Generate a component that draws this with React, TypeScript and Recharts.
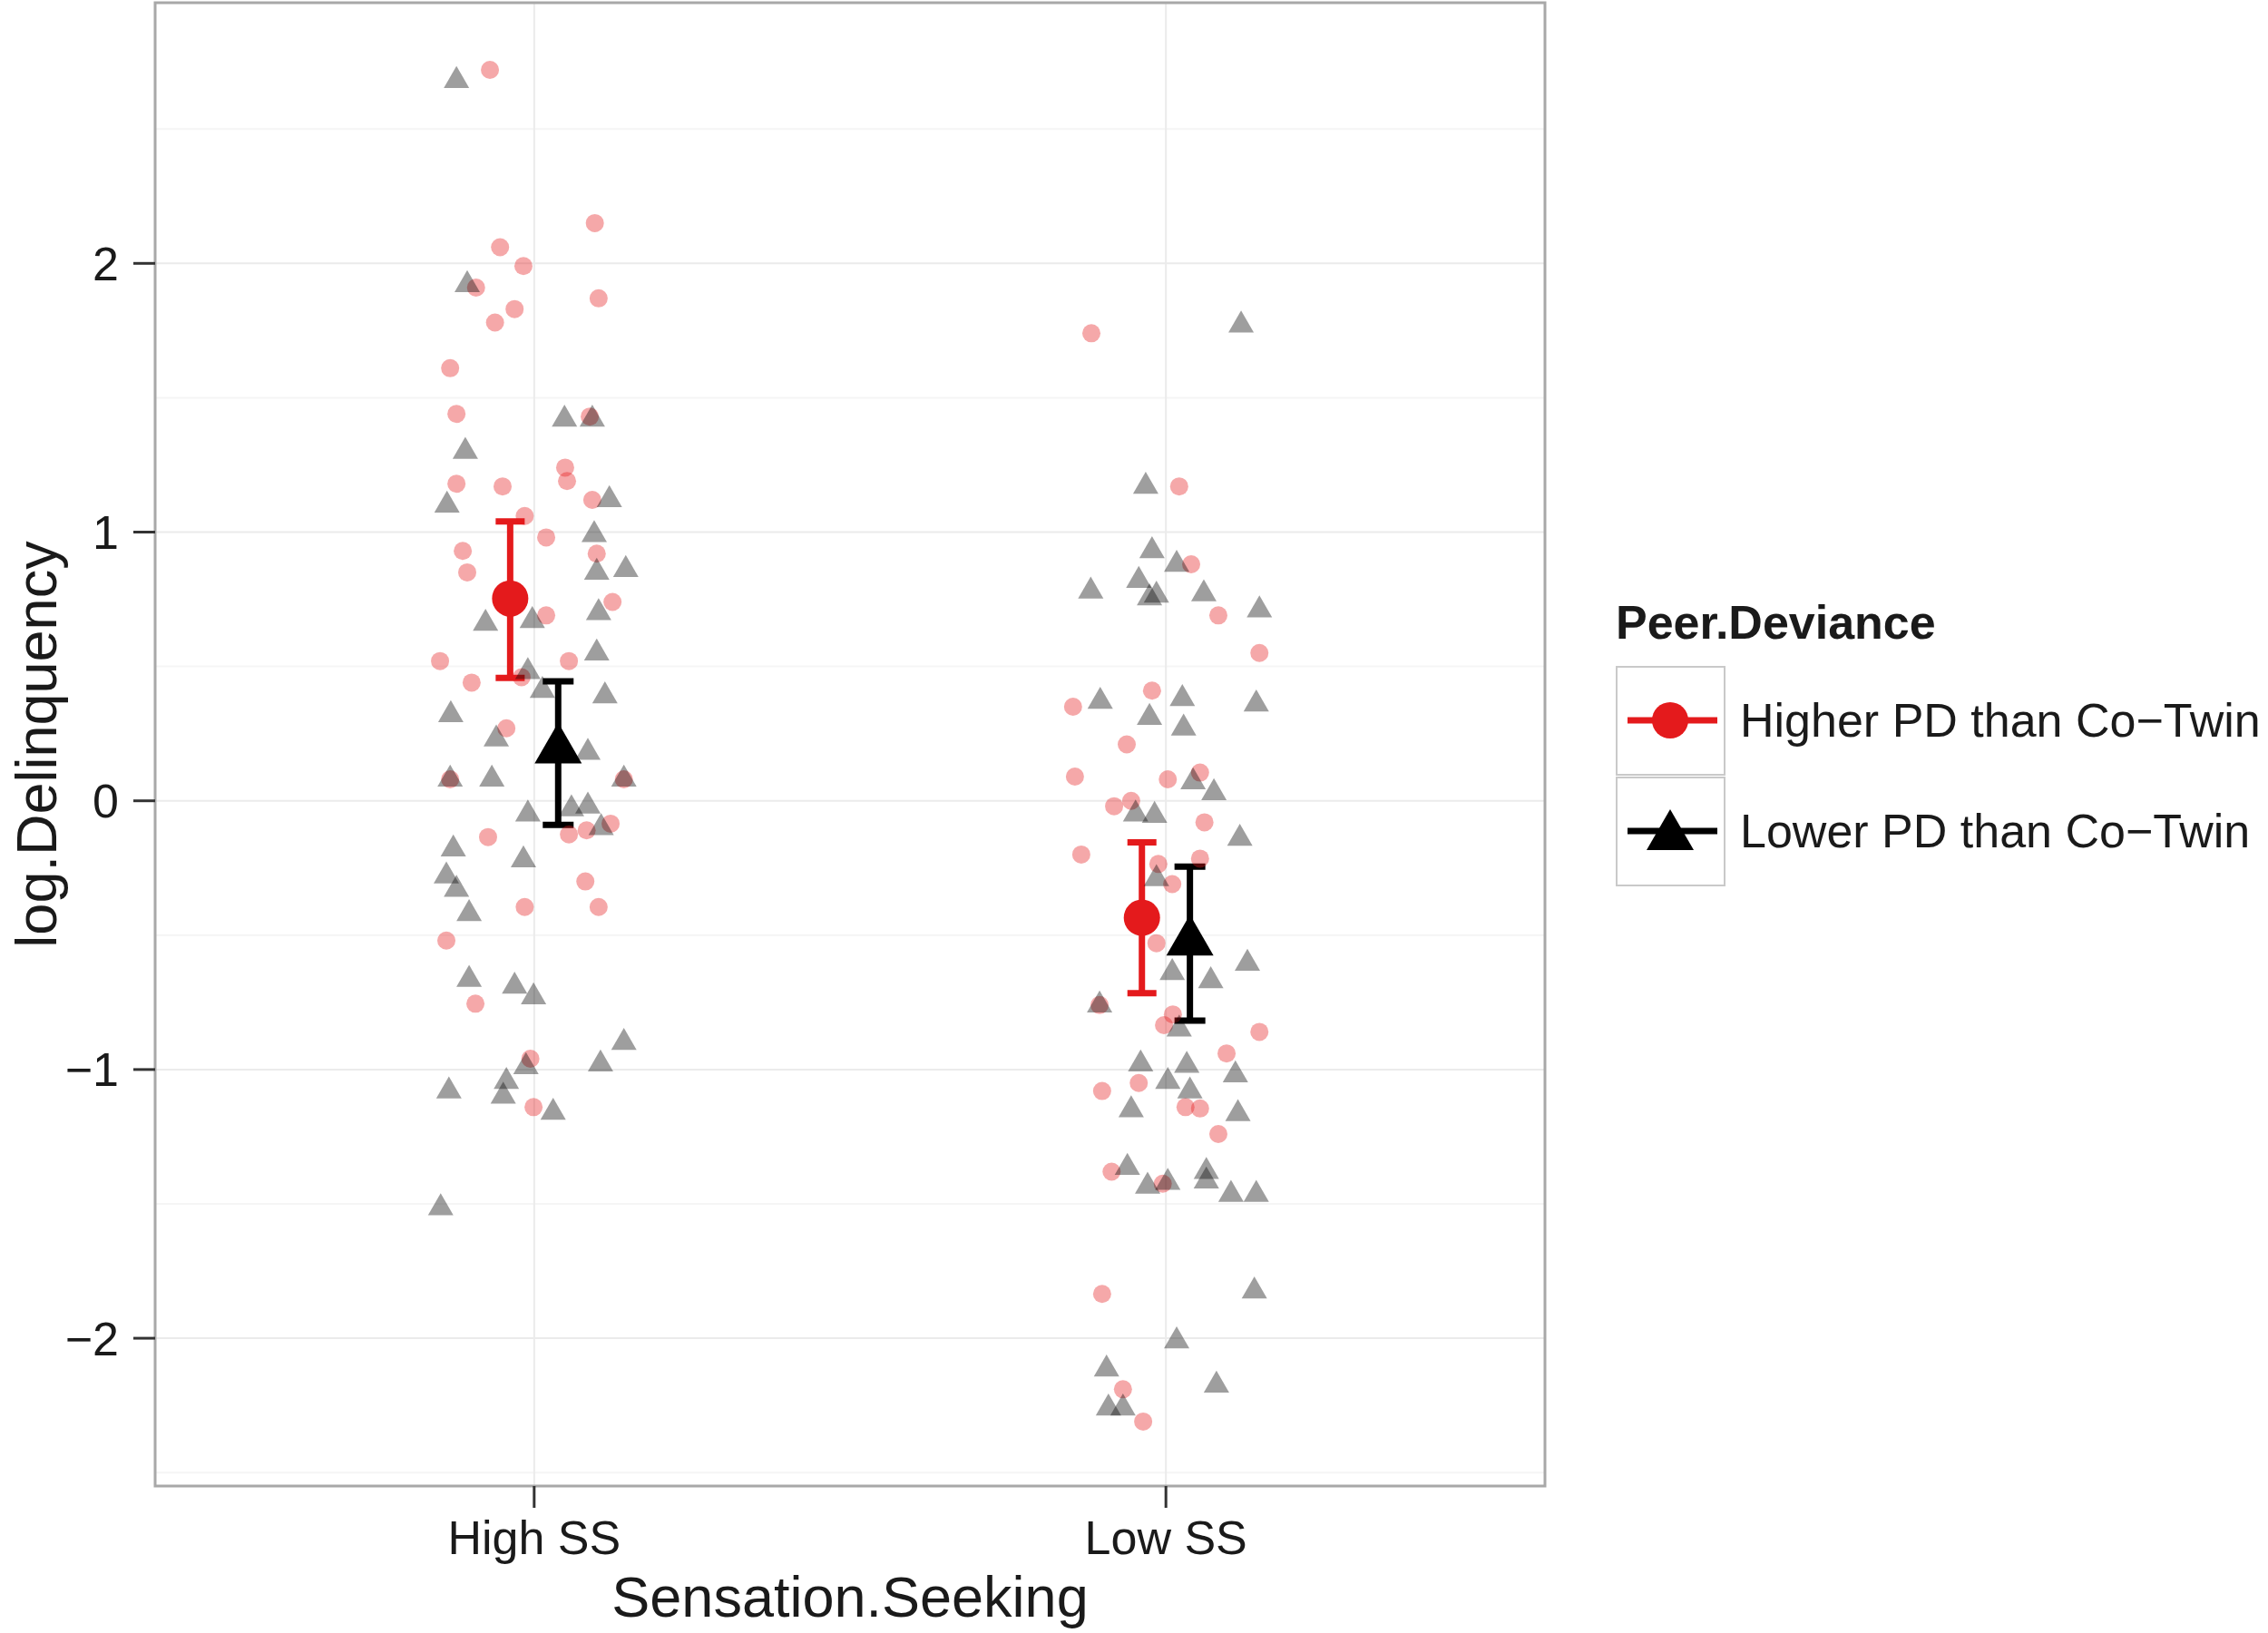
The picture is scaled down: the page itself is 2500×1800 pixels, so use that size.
import {
  ScatterChart,
  Scatter,
  XAxis,
  YAxis,
  CartesianGrid,
  ErrorBar,
  ReferenceArea,
  Label,
} from "recharts";

const FONT = "'Liberation Sans', Arial, Helvetica, sans-serif";

const CATEGORIES = ["High SS", "Low SS"];
const GROUPS = ["Higher PD than Co\u2212Twin", "Lower PD than Co\u2212Twin"];
const Y_TICKS = [-2, -1, 0, 1, 2];
const Y_MINOR = [-2.5, -1.5, -0.5, 0.5, 1.5, 2.5];

// jittered raw scores: [x position, log.Delinquency]
const higherPdHighSS: [number, number][] = [
  [0.93, 2.72], [1.096, 2.15], [0.946, 2.06], [0.983, 1.99], [0.908, 1.91],
  [1.102, 1.87], [0.969, 1.83], [0.938, 1.78], [0.867, 1.61], [0.877, 1.44],
  [1.088, 1.43], [1.049, 1.24], [1.052, 1.19], [0.877, 1.18], [0.95, 1.17],
  [1.092, 1.12], [0.985, 1.06], [1.019, 0.98], [1.099, 0.92], [0.887, 0.93],
  [0.894, 0.85], [1.124, 0.74], [1.019, 0.69], [0.851, 0.52], [1.055, 0.52],
  [0.901, 0.44], [0.98, 0.46], [0.956, 0.27], [0.867, 0.08], [1.142, 0.08],
  [1.055, -0.125], [1.083, -0.11], [1.121, -0.085], [0.927, -0.135], [1.081, -0.3],
  [0.985, -0.395], [1.102, -0.395], [0.861, -0.52], [0.907, -0.755], [0.994, -0.96],
  [0.999, -1.14],
];

const lowerPdHighSS: [number, number][] = [
  [0.877, 2.68], [0.894, 1.92], [1.048, 1.42], [1.092, 1.42], [0.891, 1.3],
  [0.862, 1.1], [1.119, 1.12], [1.095, 0.99], [1.099, 0.85], [1.145, 0.86],
  [1.102, 0.7], [0.923, 0.66], [0.997, 0.67], [1.099, 0.55], [0.99, 0.48],
  [1.013, 0.41], [1.112, 0.39], [0.868, 0.32], [0.94, 0.23], [1.085, 0.18],
  [0.867, 0.08], [0.933, 0.08], [1.142, 0.08], [0.99, -0.05], [1.059, -0.03],
  [1.085, -0.02], [1.106, -0.1], [0.872, -0.18], [0.983, -0.22], [0.861, -0.28],
  [0.877, -0.33], [0.897, -0.42], [0.897, -0.665], [0.969, -0.69], [0.999, -0.73],
  [1.142, -0.9], [1.105, -0.98], [0.987, -0.99], [0.956, -1.045], [0.951, -1.1],
  [0.865, -1.08], [1.03, -1.16], [0.852, -1.515],
];

const higherPdLowSS: [number, number][] = [
  [1.882, 1.74], [2.021, 1.17], [2.04, 0.88], [2.083, 0.69], [2.148, 0.55],
  [1.978, 0.41], [1.853, 0.35], [1.938, 0.21], [1.856, 0.09], [2.003, 0.08],
  [2.054, 0.105], [1.918, -0.02], [1.945, 0.0], [2.061, -0.08], [1.866, -0.2],
  [2.054, -0.215], [1.988, -0.235], [2.01, -0.31], [1.985, -0.53], [1.895, -0.76],
  [1.997, -0.835], [2.011, -0.795], [2.148, -0.86], [2.096, -0.94], [1.899, -1.08],
  [1.957, -1.05], [2.031, -1.14], [2.054, -1.145], [2.083, -1.24], [1.914, -1.38],
  [1.995, -1.425], [1.899, -1.835], [1.932, -2.19], [1.964, -2.31],
];

const lowerPdLowSS: [number, number][] = [
  [2.119, 1.77], [1.968, 1.17], [1.978, 0.93], [2.017, 0.88], [1.881, 0.78],
  [1.957, 0.82], [1.974, 0.755], [1.985, 0.765], [2.06, 0.77], [2.148, 0.71],
  [1.896, 0.37], [2.026, 0.38], [2.143, 0.36], [1.974, 0.31], [2.028, 0.27],
  [2.043, 0.07], [2.076, 0.03], [1.952, -0.05], [1.982, -0.055], [2.117, -0.14],
  [1.985, -0.29], [2.129, -0.605], [2.01, -0.64], [2.071, -0.67], [1.895, -0.76],
  [2.021, -0.85], [1.96, -0.98], [2.033, -0.985], [2.11, -1.02], [2.003, -1.045],
  [2.038, -1.08], [1.945, -1.15], [2.114, -1.165], [1.939, -1.365], [1.971, -1.435],
  [2.003, -1.42], [2.064, -1.38], [2.064, -1.415], [2.103, -1.465], [2.143, -1.465],
  [2.14, -1.825], [2.017, -2.01], [1.906, -2.115], [2.08, -2.175], [1.909, -2.26],
  [1.932, -2.26],
];

// group means and CI bounds, one value per category
const higherPdMean = [0.753, -0.435];
const higherPdLow = [0.457, -0.716];
const higherPdHigh = [1.04, -0.155];
const lowerPdMean = [0.19, -0.525];
const lowerPdLow = [-0.09, -0.818];
const lowerPdHigh = [0.445, -0.245];
const DODGE = 0.038;

const RED = "#e41a1c";

const toPoints = (arr: [number, number][]) => arr.map(([x, y]) => ({ x, y }));

const meanRows = (mean: number[], lo: number[], hi: number[], shift: number) =>
  mean.map((m, i) => ({ x: i + 1 + shift, y: m, err: [m - lo[i], hi[i] - m] }));

const circleShape = (r: number, fill: string, opacity: number) => (p: any) =>
  <circle cx={p.cx} cy={p.cy} r={r} fill={fill} fillOpacity={opacity} />;

const triPoints = (cx: number, cy: number, w: number) => {
  const h = (w * Math.sqrt(3)) / 2;
  return `${cx},${cy - (2 * h) / 3} ${cx - w / 2},${cy + h / 3} ${cx + w / 2},${cy + h / 3}`;
};

const triangleShape = (w: number, fill: string, opacity: number) => (p: any) =>
  <polygon points={triPoints(p.cx, p.cy, w)} fill={fill} fillOpacity={opacity} />;

const XTitle = ({ viewBox }: any) => (
  <text
    x={viewBox.x + viewBox.width / 2}
    y={viewBox.y + 122}
    dy="0.35em"
    textAnchor="middle"
    fontSize={63}
    fontFamily={FONT}
    fill="#1a1a1a"
  >
    Sensation.Seeking
  </text>
);

const YTitle = ({ viewBox }: any) => {
  const x = viewBox.x - 11;
  const y = viewBox.y + viewBox.height / 2;
  return (
    <text
      x={x}
      y={y}
      dy="0.35em"
      textAnchor="middle"
      transform={`rotate(-90, ${x}, ${y})`}
      fontSize={63}
      fontFamily={FONT}
      fill="#1a1a1a"
    >
      log.Delinquency
    </text>
  );
};

const LegendKey = ({ kind }: { kind: "circle" | "triangle" }) => (
  <svg width={121} height={121} style={{ display: "block" }}>
    <rect x={1} y={1} width={119} height={119} fill="#fff" stroke="#c9c9c9" strokeWidth={2} />
    <line x1={13} x2={112} y1={60} y2={60} stroke={kind === "circle" ? RED : "#000"} strokeWidth={7} />
    {kind === "circle" ? (
      <circle cx={60} cy={60} r={20} fill={RED} />
    ) : (
      <polygon points={triPoints(60, 66, 52)} fill="#000" />
    )}
  </svg>
);

const App = () => {
  const higher = [...toPoints(higherPdHighSS), ...toPoints(higherPdLowSS)];
  const lower = [...toPoints(lowerPdHighSS), ...toPoints(lowerPdLowSS)];
  const higherMeans = meanRows(higherPdMean, higherPdLow, higherPdHigh, -DODGE);
  const lowerMeans = meanRows(lowerPdMean, lowerPdLow, lowerPdHigh, DODGE);

  return (
    <div style={{ position: "relative", width: 2500, height: 1800, background: "#fff" }}>
      <style>{"body{margin:0}"}</style>
      <ScatterChart width={2500} height={1800} margin={{ top: 3, right: 797, bottom: 82, left: 51 }}>
        <CartesianGrid horizontalValues={Y_MINOR} vertical={false} stroke="#f5f5f5" strokeWidth={2} />
        <CartesianGrid stroke="#ebebeb" strokeWidth={2} />
        <XAxis
          type="number"
          dataKey="x"
          domain={[0.4, 2.6]}
          ticks={[1, 2]}
          allowDataOverflow
          tickFormatter={(v: number) => CATEGORIES[Math.round(v) - 1]}
          axisLine={false}
          tickSize={24}
          tickMargin={14}
          tickLine={{ stroke: "#333", strokeWidth: 3 }}
          tick={{ fontSize: 52, fill: "#1a1a1a", fontFamily: FONT }}
          height={80}
        >
          <Label content={XTitle} />
        </XAxis>
        <YAxis
          type="number"
          dataKey="y"
          domain={[-2.55, 2.97]}
          ticks={Y_TICKS}
          allowDataOverflow
          tickFormatter={(v: number) => (v < 0 ? `\u2212${Math.abs(v)}` : `${v}`)}
          axisLine={false}
          tickSize={24}
          tickMargin={16}
          tickLine={{ stroke: "#333", strokeWidth: 3 }}
          tick={{ fontSize: 52, fill: "#1a1a1a", fontFamily: FONT }}
          width={120}
        >
          <Label content={YTitle} />
        </YAxis>
        <Scatter
          data={higher}
          shape={circleShape(10, RED, 0.38)}
          isAnimationActive={false}
        />
        <Scatter
          data={lower}
          shape={triangleShape(28, "#000", 0.38)}
          isAnimationActive={false}
        />
        <Scatter data={higherMeans} shape={circleShape(20, RED, 1)} isAnimationActive={false}>
          <ErrorBar dataKey="err" direction="y" width={16} strokeWidth={7} stroke={RED} />
        </Scatter>
        <Scatter data={lowerMeans} shape={triangleShape(52, "#000", 1)} isAnimationActive={false}>
          <ErrorBar dataKey="err" direction="y" width={17} strokeWidth={7} stroke="#000" />
        </Scatter>
        <ReferenceArea
          x1={0.4}
          x2={2.6}
          y1={-2.55}
          y2={2.97}
          fill="none"
          stroke="#a8a8a8"
          strokeWidth={3}
          ifOverflow="visible"
        />
      </ScatterChart>

      <div style={{ position: "absolute", left: 1781, top: 650, fontFamily: FONT, color: "#1a1a1a" }}>
        <div style={{ fontSize: 52, fontWeight: "bold", lineHeight: "72px", marginBottom: 11 }}>
          Peer.Deviance
        </div>
        {GROUPS.map((g, i) => (
          <div key={g} style={{ display: "flex", alignItems: "center", height: 122 }}>
            <LegendKey kind={i === 0 ? "circle" : "triangle"} />
            <span style={{ fontSize: 52, marginLeft: 16, whiteSpace: "nowrap" }}>{g}</span>
          </div>
        ))}
      </div>
    </div>
  );
};

export default App;
